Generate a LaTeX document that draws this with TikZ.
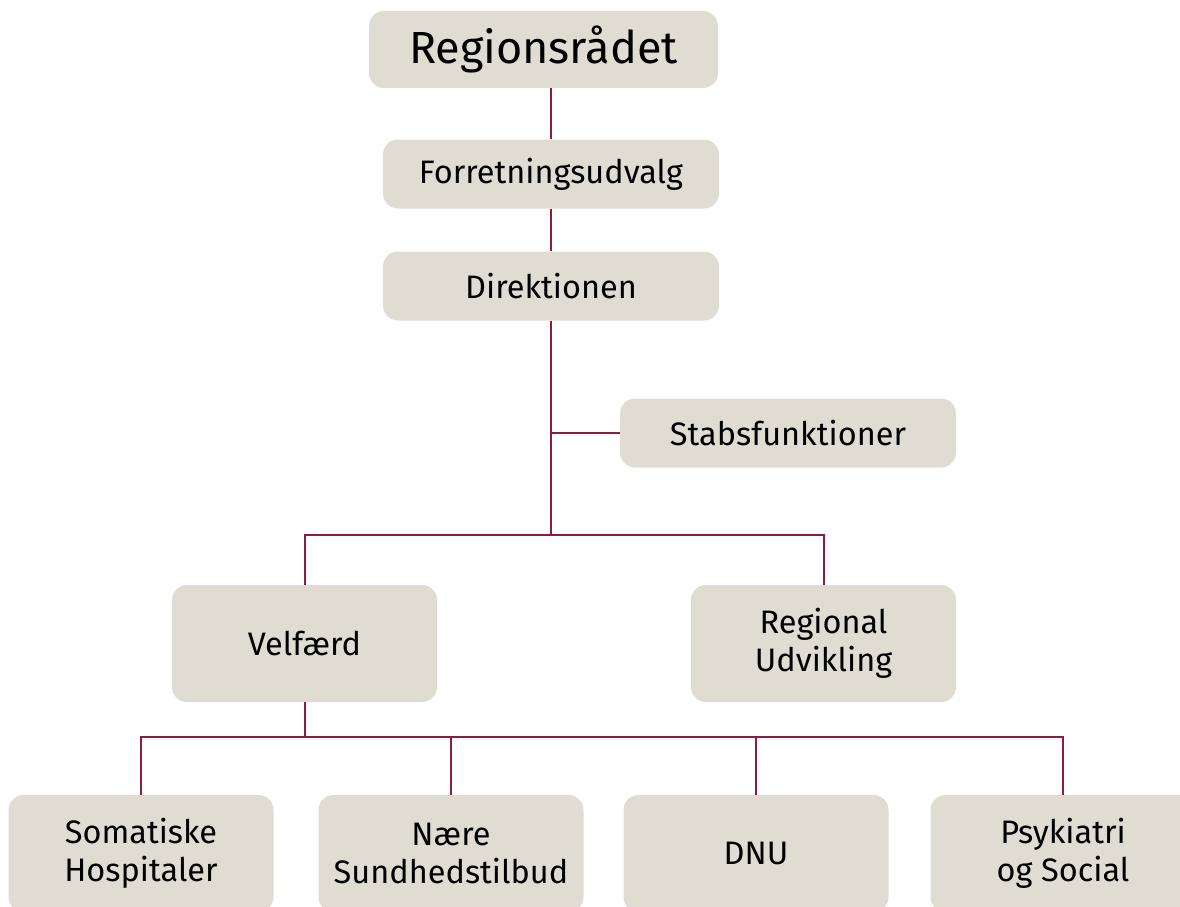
\documentclass[tikz,border=0pt]{standalone}
\usepackage{fontspec}
\setmainfont{Fira Sans}
\usepackage{tikz}
\definecolor{boxfill}{HTML}{E0DCD2}
\definecolor{linecol}{HTML}{8E1B45}
\tikzstyle{unit} = [rectangle, rounded corners=15pt, fill=boxfill, text=black, minimum width=336pt, minimum height=69pt, text centered, font=\fontsize{32.5}{38}\selectfont]
\tikzstyle{bigunit} = [unit, minimum width=265pt, minimum height=117pt, align=center]
\tikzstyle{conn} = [draw=linecol, line width=2pt]

\begin{document}
\begin{tikzpicture}[x=1pt,y=-1pt,node distance=112pt]
\useasboundingbox (0,0) rectangle (1180,906);
\clip (0,0) rectangle (1180,906);
\node (reg) [unit, minimum width=349pt, minimum height=77pt, font=\fontsize{45}{50}\selectfont] at (543.5,49.5) {Regionsrådet};
\node (fu) [unit] at (551,174) {Forretningsudvalg};
\node (dir) [unit, below of=fu] {Direktionen};
\node (stab) [unit] at (788,433) {Stabsfunktioner};
\node (velf) [bigunit] at (304.5,643.5) {Velfærd};
\node (udv) [bigunit] at (823.5,643.5) {Regional\\Udvikling};
\node (som) [bigunit] at (141,853.5) {Somatiske\\Hospitaler};
\node (nare) [bigunit] at (451,853.5) {Nære\\Sundhedstilbud};
\node (dnu) [bigunit] at (756,853.5) {DNU};
\node (psy) [bigunit] at (1063,853.5) {Psykiatri\\og Social};
\coordinate (bus) at (551,535);
\coordinate (subbus) at (304.5,737);
\draw [conn] (fu.north) -- (fu.north |- reg.south);
\draw [conn] (fu) -- (dir);
\draw [conn] (dir.south) -- (bus);
\draw [conn] (stab.west) -- (stab.west -| dir.south);
\draw [conn] (velf.north) |- (bus) -| (udv.north);
\draw [conn] (velf.south) -- (subbus);
\draw [conn] (som.north) |- (subbus) -| (psy.north);
\draw [conn] (nare.north) -- (nare.north |- subbus);
\draw [conn] (dnu.north) -- (dnu.north |- subbus);
\end{tikzpicture}
\end{document}
